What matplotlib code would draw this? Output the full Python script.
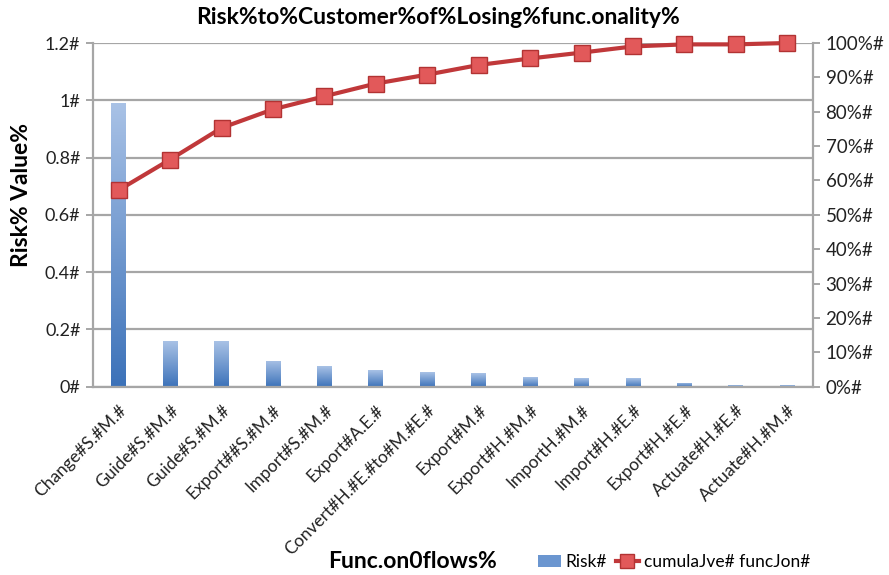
import numpy as np
import matplotlib
matplotlib.use("Agg")
import matplotlib.pyplot as plt
from matplotlib.patches import Rectangle
from matplotlib.lines import Line2D
from matplotlib.colors import LinearSegmentedColormap

plt.rcParams['font.family'] = ['Lato', 'DejaVu Sans']

categories = ["Change#S.#M.#", "Guide#S.#M.#", "Guide#S.#M.#", "Export##S.#M.#",
              "Import#S.#M.#", "Export#A.E.#", "Convert#H.#E.#to#M.#E.#", "Export#M.#",
              "Export#H.#M.#", "ImportH.#M.#", "Import#H.#E.#", "Export#H.#E.#",
              "Actuate#H.#E.#", "Actuate#H.#M.#"]
risk = [0.99, 0.158, 0.158, 0.091, 0.073, 0.059, 0.051, 0.048,
        0.034, 0.029, 0.029, 0.014, 0.006, 0.006]
cumulative = [57.2, 66.1, 75.3, 80.7, 84.5, 88.2, 90.8, 93.6,
              95.5, 97.2, 99.0, 99.6, 99.6, 100.0]
left_ticks = [0, 0.2, 0.4, 0.6, 0.8, 1.0, 1.2]
left_labels = ["0#", "0.2#", "0.4#", "0.6#", "0.8#", "1#", "1.2#"]
right_ticks = list(range(0, 101, 10))
right_labels = [f"{t}%#" for t in right_ticks]

W, H = 889, 575
fig = plt.figure(figsize=(W / 100, H / 100), dpi=100)
ax = fig.add_axes([93 / W, 1 - 386.7 / H, (813 - 93) / W, (386.7 - 43) / H])

grid_c = "#a6a6a6"
x = np.arange(len(categories))
bw = 0.29

# gradient-filled bars
cmap = LinearSegmentedColormap.from_list("bar", ["#3c72b9", "#a9c2e6"])
grad = np.linspace(0, 1, 256).reshape(-1, 1)
bars = ax.bar(x, risk, width=bw, color="none", edgecolor="none", zorder=2)
for b in bars:
    x0, w, h = b.get_x(), b.get_width(), b.get_height()
    im = ax.imshow(grad, cmap=cmap, origin="lower", aspect="auto",
                   extent=(x0, x0 + w, 0, h), zorder=2)
    im.set_clip_path(b)

ax.set_xlim(-0.5, len(categories) - 0.5)
ax.set_ylim(0, 1.2)
ax.set_yticks(left_ticks)
ax.set_yticklabels(left_labels, fontsize=13, color="#222222")
ax.yaxis.grid(True, color=grid_c, linewidth=1.6, zorder=0)
ax.set_axisbelow(True)
ax.set_xticks(x)
ax.set_xticklabels(categories, rotation=45, ha="right", rotation_mode="anchor",
                   fontsize=12.5, color="#222222")
ax.tick_params(axis="x", length=0, pad=11)
ax.tick_params(axis="y", length=5, color=grid_c, width=1.4, pad=4)
for s in ["top", "right"]:
    ax.spines[s].set_visible(False)
for s in ["left", "bottom"]:
    ax.spines[s].set_color(grid_c)
    ax.spines[s].set_linewidth(1.6)

ax2 = ax.twinx()
ax2.set_ylim(0, 100)
ax2.set_yticks(right_ticks)
ax2.set_yticklabels(right_labels, fontsize=13.5, color="#222222")
ax2.tick_params(axis="y", length=5, color=grid_c, width=1.4, pad=4)
for s in ["top", "left", "bottom"]:
    ax2.spines[s].set_visible(False)
ax2.spines["right"].set_color(grid_c)
ax2.spines["right"].set_linewidth(1.6)

line_c = "#c0383a"
ax2.plot(x, cumulative, color=line_c, linewidth=3, marker="s", markersize=11,
         markerfacecolor="#e2595a", markeredgecolor="#b23333", markeredgewidth=1,
         zorder=5, clip_on=False)

fig.text(438 / W, 1 - 17 / H, "Risk%to%Customer%of%Losing%func.onality%",
         ha="center", va="center", fontsize=16.5, fontweight="bold")
fig.text(22 / W, 1 - 195 / H, "Risk% Value%", ha="center", va="center",
         rotation=90, fontsize=16.5, fontweight="bold")
fig.text(413 / W, 1 - 561 / H, "Func.on0flows%", ha="center", va="center",
         fontsize=16.5, fontweight="bold")

handles = [Rectangle((0, 0), 1, 1, facecolor="#6b96d0", edgecolor="none"),
           Line2D([], [], color=line_c, linewidth=3, marker="s", markersize=10,
                  markerfacecolor="#e2595a", markeredgecolor="#b23333")]
fig.legend(handles, ["Risk#", "cumulaJve# funcJon#"], loc="center left",
           bbox_to_anchor=(538 / W, 1 - 562 / H), ncol=2, frameon=False,
           fontsize=12.5, handlelength=1.3, handletextpad=0.3, columnspacing=0.5,
           borderaxespad=0, borderpad=0)

fig.savefig("out.png", dpi=100)
